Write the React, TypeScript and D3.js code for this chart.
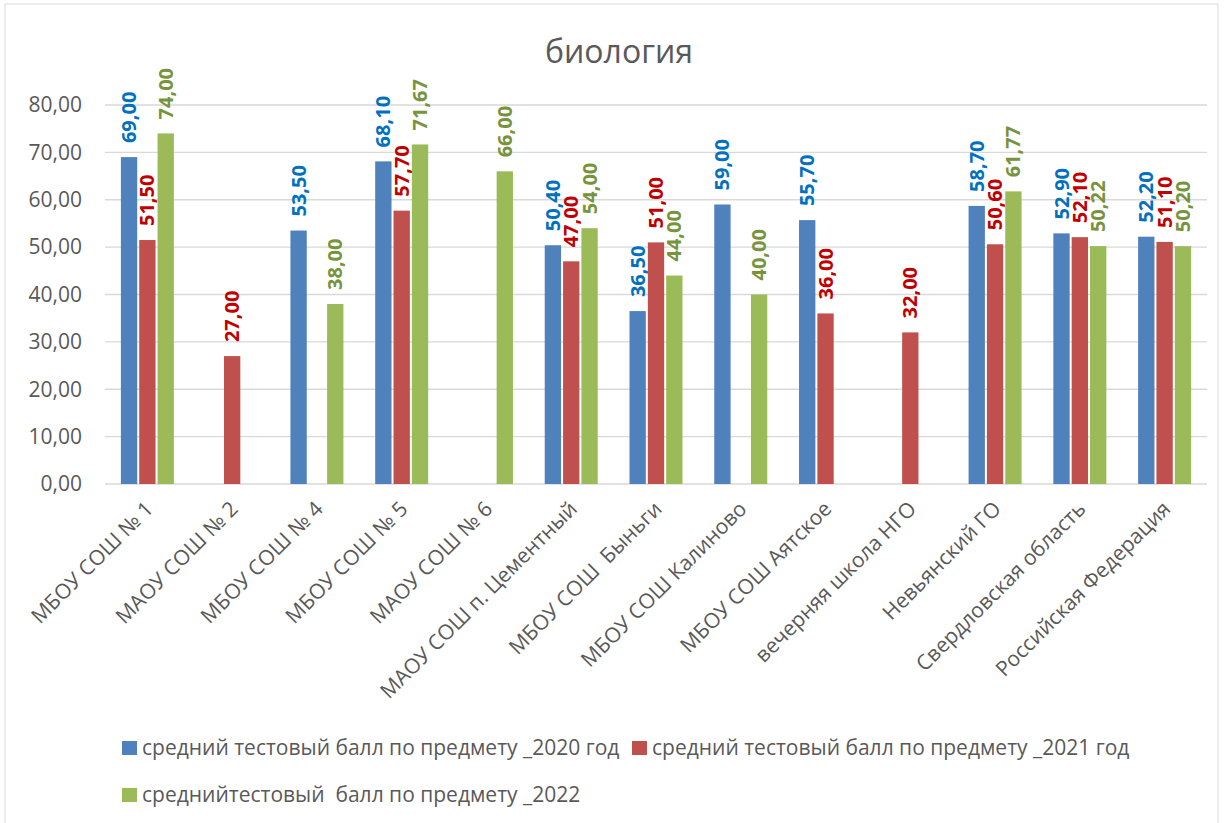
import { useMemo } from 'react';
import { scaleBand, scaleLinear } from 'd3';

const categories = [
  'МБОУ СОШ № 1',
  'МАОУ СОШ № 2',
  'МБОУ СОШ № 4',
  'МБОУ СОШ № 5',
  'МАОУ СОШ № 6',
  'МАОУ СОШ п. Цементный',
  'МБОУ СОШ  Быньги',
  'МБОУ СОШ Калиново',
  'МБОУ СОШ Аятское',
  'вечерняя школа НГО',
  'Невьянский ГО',
  'Свердловская область',
  'Российская Федерация',
];

const values2020 = [69.0, null, 53.5, 68.1, null, 50.4, 36.5, 59.0, 55.7, null, 58.7, 52.9, 52.2];
const values2021 = [51.5, 27.0, null, 57.7, null, 47.0, 51.0, null, 36.0, 32.0, 50.6, 52.1, 51.1];
const values2022 = [74.0, null, 38.0, 71.67, 66.0, 54.0, 44.0, 40.0, null, null, 61.77, 50.22, 50.2];

const seriesNames = [
  'средний тестовый балл по предмету _2020 год',
  'средний тестовый балл по предмету _2021 год',
  'среднийтестовый  балл по предмету _2022',
];

const yTicks = [0, 10, 20, 30, 40, 50, 60, 70, 80];

const barColors = ['#4F81BD', '#C0504D', '#9BBB59'];
const labelColors = ['#0070C0', '#C00000', '#77933C'];

const W = 1224;
const H = 823;
const FONT = '"Open Sans", "Noto Sans", sans-serif';

const fmt = (v: number) => v.toFixed(2).replace('.', ',');

export default function App() {
  const series = [values2020, values2021, values2022];

  const x = useMemo(() => scaleBand<string>().domain(categories).range([105, 1207]).padding(0), []);
  const x1 = useMemo(() => scaleBand<string>().domain(['0', '1', '2']).range([-26.5, 26.5]).paddingInner(0.11), []);
  const y = useMemo(() => scaleLinear().domain([0, 80]).range([484, 105]), []);

  const legend = [
    { x: 122, y: 748 },
    { x: 632, y: 748 },
    { x: 122, y: 795 },
  ];

  return (
    <svg
      width={W}
      height={H}
      style={{ position: 'absolute', left: 0, top: 0, background: '#fff' }}
      fontFamily={FONT}
    >
      <rect x={5} y={4} width={1213} height={840} fill="#fff" stroke="#D9D9D9" strokeWidth={1} />

      <text x={619} y={63} textAnchor="middle" fontSize={32} fill="#595959">
        биология
      </text>

      {yTicks.map((t) => (
        <g key={t}>
          <line x1={105} x2={1207} y1={y(t)} y2={y(t)} stroke="#D9D9D9" strokeWidth={1.3} />
          <text x={82} y={y(t)} dy="0.35em" textAnchor="end" fontSize={21} fill="#595959">
            {fmt(t)}
          </text>
        </g>
      ))}

      {categories.map((c, ci) => {
        const cx = (x(c) ?? 0) + x.bandwidth() / 2;
        return (
          <g key={c}>
            {series.map((vals, si) => {
              const v = vals[ci];
              if (v == null) return null;
              const bx = cx + (x1(String(si)) ?? 0);
              const bw = x1.bandwidth();
              return (
                <g key={si}>
                  <rect x={bx} y={y(v)} width={bw} height={y(0) - y(v)} fill={barColors[si]} />
                  <text
                    transform={`translate(${bx + bw / 2},${y(v) - 14}) rotate(-90)`}
                    dy="0.35em"
                    fontSize={20}
                    fontWeight="bold"
                    fill={labelColors[si]}
                  >
                    {fmt(v)}
                  </text>
                </g>
              );
            })}
            <text
              transform={`translate(${cx + 2},${505}) rotate(-45)`}
              textAnchor="end"
              dy="0.35em"
              fontSize={21}
              fill="#595959"
              xmlSpace="preserve"
            >
              {c}
            </text>
          </g>
        );
      })}

      {seriesNames.map((name, i) => (
        <g key={name}>
          <rect x={legend[i].x} y={legend[i].y - 7} width={15} height={14} fill={barColors[i]} />
          <text
            x={legend[i].x + 20}
            y={legend[i].y}
            dy="0.35em"
            fontSize={21}
            fill="#595959"
            xmlSpace="preserve"
          >
            {name}
          </text>
        </g>
      ))}
    </svg>
  );
}
